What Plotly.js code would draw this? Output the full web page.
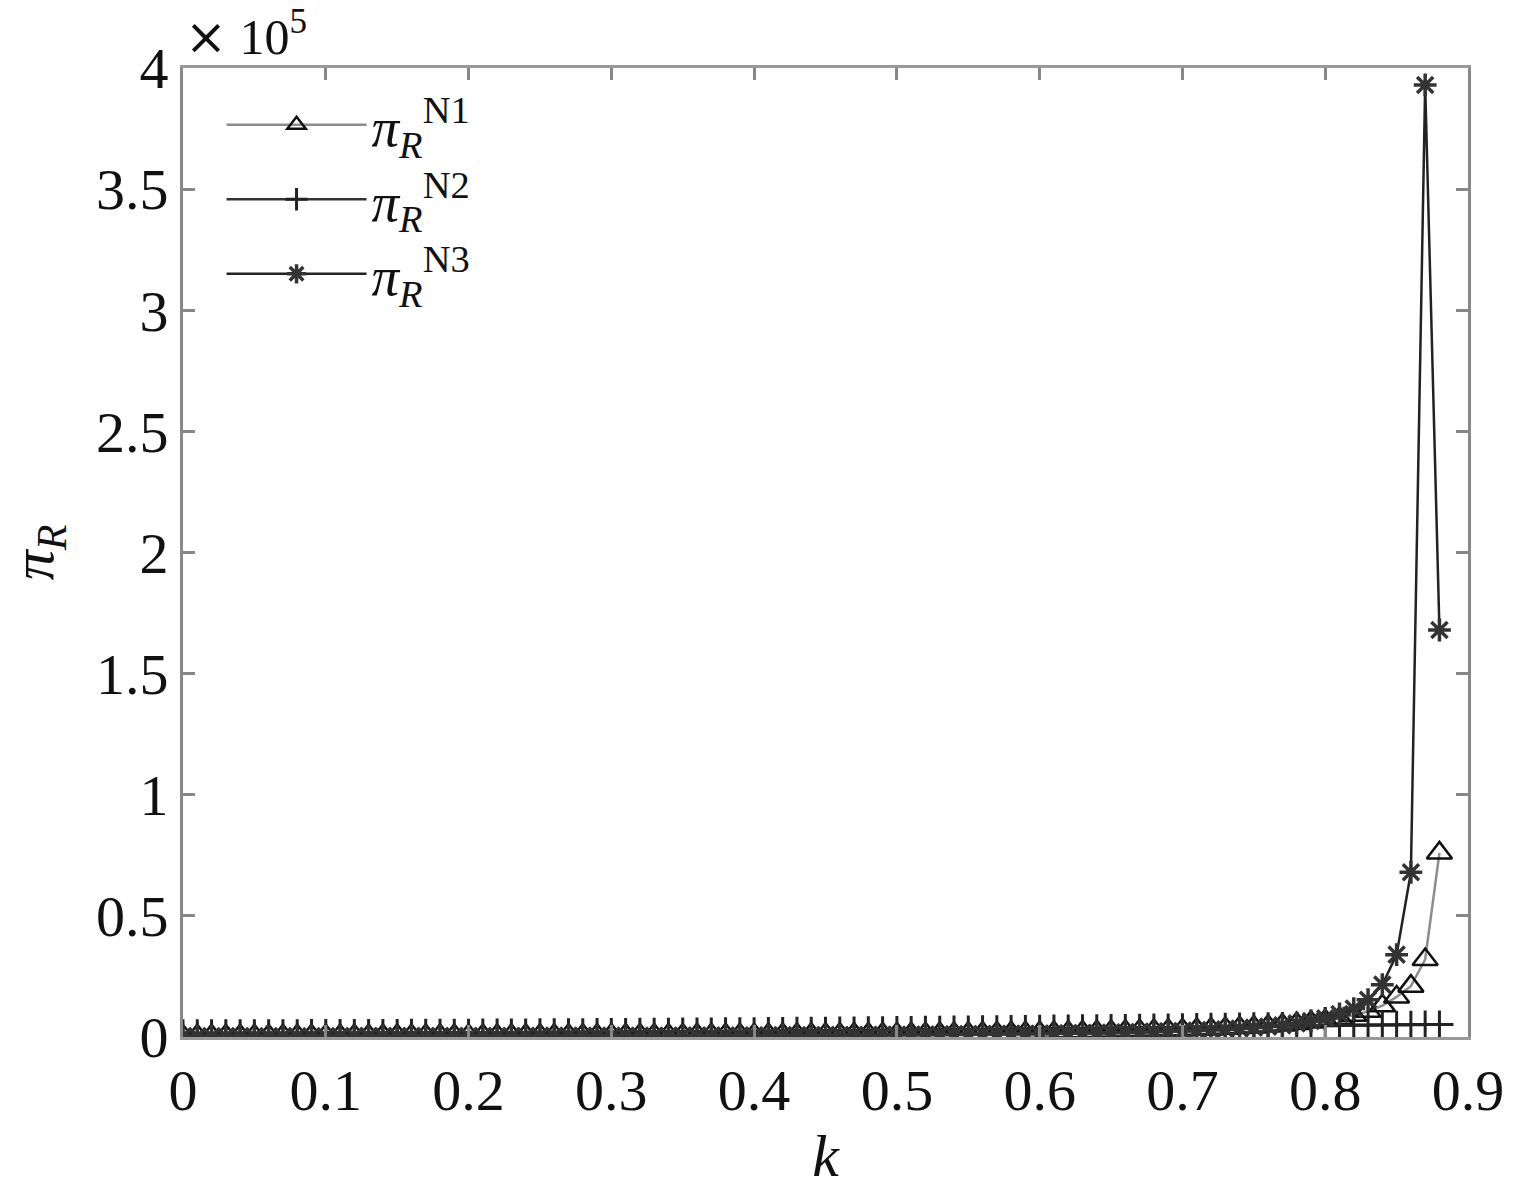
<!DOCTYPE html>
<html>
<head>
<meta charset="utf-8">
<script src="https://cdn.plot.ly/plotly-3.0.1.min.js"></script>
<style>
html,body{margin:0;padding:0;background:#fff;}
#chart{width:1518px;height:1189px;}
</style>
</head>
<body>
<div id="chart"></div>
<script>
// k values 0.00 .. 0.88 step 0.01
const kValues = [0.00,0.01,0.02,0.03,0.04,0.05,0.06,0.07,0.08,0.09,
  0.10,0.11,0.12,0.13,0.14,0.15,0.16,0.17,0.18,0.19,
  0.20,0.21,0.22,0.23,0.24,0.25,0.26,0.27,0.28,0.29,
  0.30,0.31,0.32,0.33,0.34,0.35,0.36,0.37,0.38,0.39,
  0.40,0.41,0.42,0.43,0.44,0.45,0.46,0.47,0.48,0.49,
  0.50,0.51,0.52,0.53,0.54,0.55,0.56,0.57,0.58,0.59,
  0.60,0.61,0.62,0.63,0.64,0.65,0.66,0.67,0.68,0.69,
  0.70,0.71,0.72,0.73,0.74,0.75,0.76,0.77,0.78,0.79,
  0.80,0.81,0.82,0.83,0.84,0.85,0.86,0.87,0.88];

const piN1 = [545,550,556,562,568,575,581,588,595,602,
  622,630,640,650,660,670,680,690,700,710,
  721,732,744,756,768,780,793,807,821,838,
  857,874,892,911,931,952,974,997,1021,1036,
  1051,1078,1107,1138,1171,1206,1244,1285,1325,1340,
  1351,1395,1445,1500,1560,1625,1695,1770,1800,1840,
  1871,1950,2040,2140,2250,2370,2500,2650,2800,2900,
  2980,3150,3350,3600,3880,4170,4550,5000,5600,6200,
  6780,7700,8940,10590,12950,16540,21000,32000,76000];

const piN2 = [1500,1510,1520,1530,1540,1550,1560,1575,1590,1605,
  1620,1635,1650,1665,1680,1700,1720,1740,1760,1780,
  1800,1820,1845,1870,1895,1920,1945,1970,2000,2030,
  2060,2090,2120,2150,2185,2220,2255,2290,2330,2370,
  2410,2450,2490,2530,2575,2620,2665,2710,2760,2810,
  2860,2910,2960,3010,3060,3115,3170,3225,3280,3340,
  3400,3460,3520,3580,3640,3700,3760,3830,3900,3970,
  4040,4110,4180,4250,4320,4390,4460,4530,4600,4670,
  4740,4800,4860,4920,4980,5040,5100,5150,5200];

const piN3 = [280,284,288,292,296,300,305,310,315,320,
  330,335,341,347,353,359,365,371,378,388,
  397,405,414,423,432,441,451,461,471,482,
  493,504,516,529,542,556,571,587,604,621,
  639,658,678,700,724,750,778,808,840,858,
  879,920,965,1015,1070,1130,1195,1265,1300,1320,
  1336,1410,1500,1600,1700,1752,1900,2050,2200,2330,
  2457,2650,2900,3200,3500,3873,4300,4800,5610,6600,
  7700,9500,11730,15380,21600,34000,68000,393000,168000];

const seriesNames = [
  '<i>π</i><sub><i>R</i></sub><sup>N1</sup>',
  '<i>π</i><sub><i>R</i></sub><sup>N2</sup>',
  '<i>π</i><sub><i>R</i></sub><sup>N3</sup>'
];
const xTicks = [0,0.1,0.2,0.3,0.4,0.5,0.6,0.7,0.8,0.9];
const xTickText = ['0','0.1','0.2','0.3','0.4','0.5','0.6','0.7','0.8','0.9'];
const yTicks = [0,50000,100000,150000,200000,250000,300000,350000,400000];
const yTickText = ['0','0.5','1','1.5','2','2.5','3','3.5','4'];

const FONT = 'Liberation Serif, DejaVu Serif, serif';

const traces = [
  {x:kValues, y:piN1, name:seriesNames[0], type:'scatter', mode:'lines+markers',
   line:{color:'#8c8c8c', width:2.5},
   marker:{symbol:'triangle-up-open', size:22, color:'#111', line:{width:2.5, color:'#111'}}},
  {x:kValues, y:piN2, name:seriesNames[1], type:'scatter', mode:'lines+markers',
   line:{color:'#333', width:2.5},
   marker:{symbol:'cross-thin', size:20, color:'#222', line:{width:3, color:'#222'}}},
  {x:kValues, y:piN3, name:seriesNames[2], type:'scatter', mode:'lines+markers',
   line:{color:'#222', width:2.5},
   marker:{symbol:'asterisk', size:19, color:'#222', line:{width:3.5, color:'#333'}}}
];

const layout = {
  width:1518, height:1189,
  paper_bgcolor:'#fff', plot_bgcolor:'#fff',
  margin:{l:183, r:50, t:68, b:152},
  font:{family:FONT, color:'#111', size:56},
  showlegend:true,
  legend:{x:0.03, y:0.985, xanchor:'left', yanchor:'top',
    bgcolor:'rgba(255,255,255,0)', borderwidth:0,
    font:{family:FONT, size:55, color:'#111'}, tracegroupgap:0, itemwidth:140},
  xaxis:{range:[0,0.9], tickvals:xTicks, ticktext:xTickText,
    ticks:'inside', ticklen:12, tickwidth:3, tickcolor:'#888',
    showline:true, linecolor:'#999', linewidth:3, mirror:'allticks',
    showgrid:false, zeroline:false,
    tickfont:{family:FONT, size:58, color:'#111'},
    title:{text:'<i>k</i>', font:{family:FONT, size:60, color:'#111'}, standoff:18}},
  yaxis:{range:[0,400000], tickvals:yTicks, ticktext:yTickText,
    ticks:'inside', ticklen:12, tickwidth:3, tickcolor:'#888',
    showline:true, linecolor:'#888', linewidth:3, mirror:'allticks',
    showgrid:false, zeroline:false,
    tickfont:{family:FONT, size:58, color:'#111'},
    title:{text:'<i>π</i><sub><i>R</i></sub>', font:{family:FONT, size:60, color:'#111'}, standoff:38}},
  annotations:[
    {xref:'paper', yref:'paper', x:0, y:1, xanchor:'left', yanchor:'bottom', yshift:0,
     text:'<span style="font-family:DejaVu Serif">×</span> 10<sup>5</sup>', showarrow:false,
     font:{family:FONT, size:50, color:'#111'}}
  ]
};

Plotly.newPlot('chart', traces, layout, {displayModeBar:false, staticPlot:true});
</script>
</body>
</html>
